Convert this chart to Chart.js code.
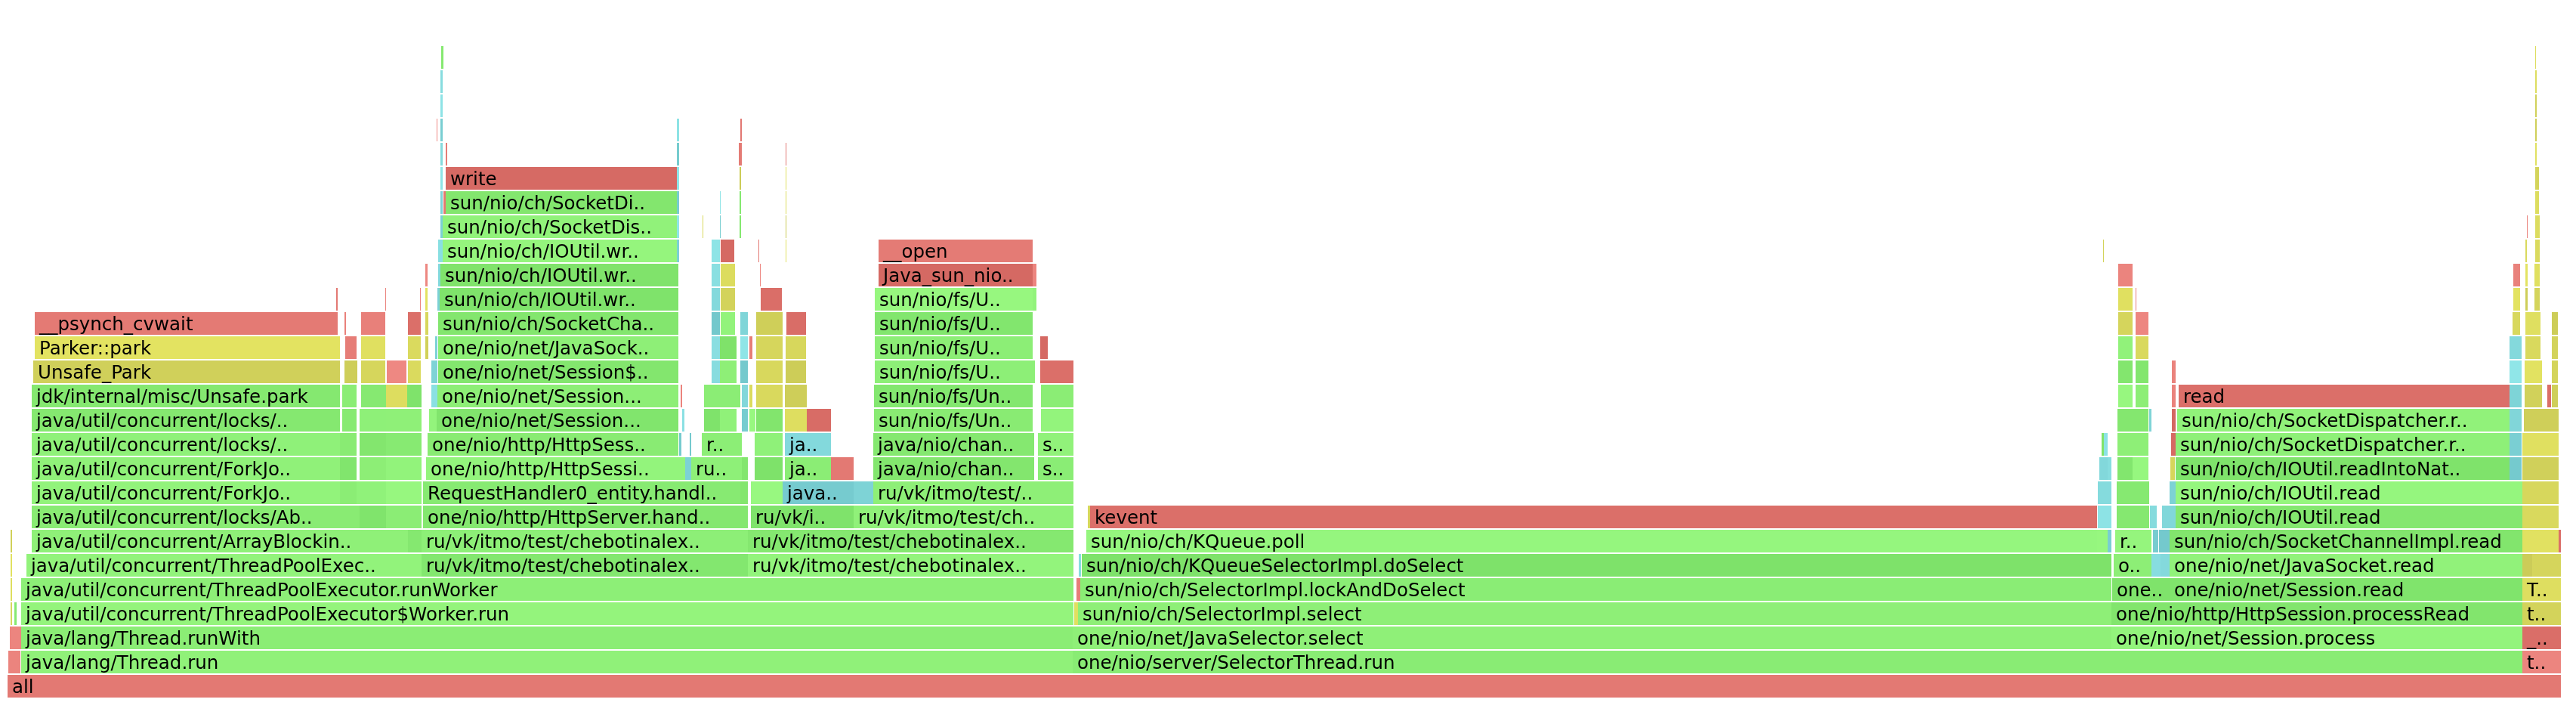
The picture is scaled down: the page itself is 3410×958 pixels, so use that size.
<!DOCTYPE html>
<html>
<head>
<meta charset="utf-8">
<script src="https://cdn.jsdelivr.net/npm/chart.js@4.4.1/dist/chart.umd.min.js"></script>
<style>
html,body{margin:0;padding:0;background:#ffffff;}
#wrap{width:3410px;height:958px;position:relative;}
</style>
</head>
<body>
<div id="wrap"><canvas id="flame"></canvas></div>
<script>
// Depth (stack level) category labels, bottom = 0
const depthLabels = ['0','1','2','3','4','5','6','7','8','9','10','11','12','13','14','15','16','17','18','19','20','21','22','23','24','25','26'];

// Frames per depth: [label, startSample, endSample, kind]
// kind: j=java, n=native (libc), k=kernel/syscall, c=c++, i=inlined
const depth0 = [['all',0,3380,'n']];
const depth1 = [['',1,17,'n'],['java/lang/Thread.run',18,1410,'j'],['one/nio/server/SelectorThread.run',1410,3329,'j'],['t..',3329,3380,'n']];
const depth2 = [['',3,18,'n'],['java/lang/Thread.runWith',18,1410,'j'],['one/nio/net/JavaSelector.select',1410,2785,'j'],['one/nio/net/Session.process',2785,3329,'j'],['_..',3329,3380,'k']];
const depth3 = [['',4,6,'c'],['',9,12,'j'],['java/util/concurrent/ThreadPoolExecutor$Worker.run',18,1411,'j'],['',1412,1417,'c'],['sun/nio/ch/SelectorImpl.select',1417,2785,'j'],['one/nio/http/HttpSession.processRead',2785,3329,'j'],['t..',3329,3380,'c']];
const depth4 = [['',4,6,'c'],['java/util/concurrent/ThreadPoolExecutor.runWorker',18,1411,'j'],['',1415,1420,'n'],['sun/nio/ch/SelectorImpl.lockAndDoSelect',1420,2785,'j'],['one..',2786,2862,'j'],['one/nio/net/Session.read',2862,3329,'j'],['T..',3329,3380,'c']];
const depth5 = [['',4,6,'c'],['java/util/concurrent/ThreadPoolExec..',25,548,'j'],['ru/vk/itmo/test/chebotinalex..',548,980,'j'],['ru/vk/itmo/test/chebotinalex..',980,1411,'j'],['',1418,1421,'i'],['sun/nio/ch/KQueueSelectorImpl.doSelect',1422,2785,'j'],['o..',2788,2838,'j'],['',2838,2850,'i'],['',2850,2862,'i'],['one/nio/net/JavaSocket.read',2862,3329,'j'],['',3329,3342,'c'],['',3342,3380,'c']];
const depth6 = [['',4,6,'c'],['java/util/concurrent/ArrayBlockin..',32,530,'j'],['',530,548,'j'],['ru/vk/itmo/test/chebotinalex..',548,980,'j'],['ru/vk/itmo/test/chebotinalex..',980,1411,'j'],['sun/nio/ch/KQueue.poll',1428,2766,'j'],['',2766,2780,'j'],['',2780,2785,'i'],['r..',2790,2838,'j'],['',2840,2847,'i'],['',2848,2862,'i'],['sun/nio/ch/SocketChannelImpl.read',2862,3329,'j'],['',3329,3377,'c'],['',3377,3380,'k']];
const depth7 = [['java/util/concurrent/locks/Ab..',32,466,'j'],['',466,501,'j'],['',501,548,'j'],['one/nio/http/HttpServer.hand..',550,980,'j'],['ru/vk/i..',984,1120,'j'],['ru/vk/itmo/test/ch..',1120,1411,'j'],['',1430,1433,'c'],['kevent',1433,2766,'k'],['',2767,2785,'i'],['',2792,2835,'j'],['',2836,2845,'i'],['',2852,2870,'i'],['sun/nio/ch/IOUtil.read',2870,3329,'j'],['',3329,3377,'c']];
const depth8 = [['java/util/concurrent/ForkJo..',32,440,'j'],['',440,462,'j'],['',462,501,'j'],['',501,548,'j'],['RequestHandler0_entity.handl..',550,970,'j'],['',970,980,'j'],['',984,1026,'j'],['java..',1026,1120,'i'],['',1120,1146,'i'],['ru/vk/itmo/test/..',1146,1411,'j'],['',2767,2785,'i'],['',2792,2835,'j'],['',2862,2870,'i'],['sun/nio/ch/IOUtil.read',2870,3329,'j'],['',3329,3377,'c']];
const depth9 = [['java/util/concurrent/ForkJo..',32,440,'j'],['',440,462,'j'],['',466,501,'j'],['',501,548,'j'],['one/nio/http/HttpSessi..',554,897,'j'],['',897,905,'i'],['ru..',905,972,'j'],['',972,980,'j'],['',989,1026,'j'],['ja..',1029,1090,'j'],['',1090,1120,'n'],['java/nio/chan..',1146,1359,'j'],['s..',1364,1411,'j'],['',2769,2780,'i'],['',2780,2785,'i'],['',2793,2813,'j'],['',2813,2834,'j'],['',2863,2869,'c'],['sun/nio/ch/IOUtil.readIntoNat..',2870,3312,'j'],['',3312,3328,'i'],['',3329,3377,'c']];
const depth10 = [['java/util/concurrent/locks/..',32,440,'j'],['',440,462,'j'],['',466,501,'j'],['',501,548,'j'],['one/nio/http/HttpSess..',556,888,'j'],['',889,892,'i'],['',903,905,'i'],['r..',919,972,'j'],['',989,1026,'j'],['ja..',1029,1090,'i'],['java/nio/chan..',1146,1359,'j'],['s..',1364,1411,'j'],['',2772,2775,'j'],['',2775,2780,'i'],['',2793,2834,'j'],['',2864,2870,'k'],['sun/nio/ch/SocketDispatcher.r..',2870,3312,'j'],['',3312,3328,'i'],['',3329,3377,'c']];
const depth11 = [['java/util/concurrent/locks/..',32,440,'j'],['',443,462,'j'],['',466,501,'j'],['',501,548,'j'],['',558,568,'j'],['one/nio/net/Session...',568,888,'j'],['',893,896,'i'],['',922,943,'j'],['',943,965,'j'],['',972,980,'i'],['',982,990,'j'],['',991,1026,'j'],['',1029,1058,'c'],['',1058,1090,'k'],['sun/nio/fs/Un..',1147,1357,'j'],['',1368,1411,'j'],['',2793,2834,'j'],['',2835,2838,'i'],['',2865,2870,'k'],['sun/nio/ch/SocketDispatcher.r..',2872,3312,'j'],['',3312,3328,'i'],['',3331,3377,'c']];
const depth12 = [['jdk/internal/misc/Unsafe.park',32,440,'j'],['',443,462,'j'],['',468,501,'j'],['',501,529,'c'],['',529,548,'j'],['',561,569,'i'],['one/nio/net/Session...',569,888,'j'],['',891,893,'n'],['',922,970,'j'],['',972,980,'i'],['',982,986,'c'],['',991,1026,'c'],['',1029,1058,'c'],['sun/nio/fs/Un..',1147,1357,'j'],['',1368,1411,'j'],['',2794,2813,'j'],['',2817,2834,'j'],['',2865,2870,'n'],['read',2874,3312,'k'],['',3312,3328,'i'],['',3332,3355,'c'],['',3362,3367,'k'],['',3368,3376,'c']];
const depth13 = [['Unsafe_Park',34,440,'c'],['',446,463,'c'],['',468,500,'c'],['',502,528,'n'],['',530,547,'c'],['',561,569,'i'],['one/nio/net/Session$..',570,888,'j'],['',932,943,'i'],['',943,965,'j'],['',970,980,'i'],['',991,1026,'c'],['',1030,1057,'c'],['sun/nio/fs/U..',1148,1360,'j'],['',1367,1411,'k'],['',2794,2813,'j'],['',2817,2834,'j'],['',2865,2870,'n'],['',3312,3328,'i'],['',3332,3355,'c'],['',3368,3376,'c']];
const depth14 = [['Parker::park',36,440,'c'],['',447,462,'n'],['',468,500,'c'],['',530,547,'c'],['',553,557,'c'],['',566,569,'i'],['one/nio/net/JavaSock..',570,888,'j'],['',932,943,'i'],['',943,965,'j'],['',970,980,'i'],['',982,986,'n'],['',991,1026,'c'],['',1030,1057,'c'],['sun/nio/fs/U..',1148,1357,'j'],['',1367,1377,'k'],['',2794,2813,'j'],['',2817,2834,'c'],['',3312,3328,'i'],['',3333,3353,'c'],['',3368,3376,'c']];
const depth15 = [['__psynch_cvwait',36,437,'n'],['',446,448,'n'],['',468,500,'n'],['',530,547,'k'],['',553,557,'c'],['sun/nio/ch/SocketCha..',570,888,'j'],['',932,943,'i'],['',944,963,'j'],['',970,980,'i'],['',991,1026,'c'],['',1031,1057,'k'],['sun/nio/fs/U..',1148,1357,'j'],['',2794,2813,'c'],['',2817,2834,'n'],['',3316,3326,'c'],['',3333,3353,'c'],['',3368,3376,'c']];
const depth16 = [['',435,437,'n'],['',500,501,'n'],['',546,547,'n'],['',553,556,'c'],['',569,572,'i'],['sun/nio/ch/IOUtil.wr..',572,888,'j'],['',932,943,'i'],['',944,963,'c'],['',997,1025,'k'],['sun/nio/fs/U..',1148,1357,'j'],['',1357,1362,'j'],['',2794,2813,'c'],['',2817,2818,'n'],['',3317,3326,'c'],['',3333,3336,'c'],['',3345,3352,'c']];
const depth17 = [['',553,556,'n'],['',570,573,'i'],['sun/nio/ch/IOUtil.wr..',573,888,'j'],['',932,943,'i'],['',944,963,'c'],['',996,997,'n'],['Java_sun_nio..',1153,1357,'k'],['',1357,1362,'n'],['',2794,2813,'n'],['',3317,3326,'n'],['',3333,3336,'c'],['',3345,3352,'c']];
const depth18 = [['',570,576,'i'],['sun/nio/ch/IOUtil.wr..',576,886,'j'],['',886,889,'i'],['',932,943,'i'],['',944,962,'k'],['',994,995,'n'],['',1030,1031,'c'],['__open',1153,1357,'n'],['',2774,2775,'c'],['',3333,3335,'c'],['',3346,3352,'c']];
const depth19 = [['',573,576,'i'],['sun/nio/ch/SocketDis..',576,886,'j'],['',886,889,'i'],['',920,921,'c'],['',943,944,'i'],['',969,971,'j'],['',1030,1031,'c'],['',3335,3336,'n'],['',3346,3352,'c']];
const depth20 = [['',573,576,'i'],['',577,580,'n'],['sun/nio/ch/SocketDi..',580,886,'j'],['',886,889,'i'],['',943,944,'i'],['',969,971,'j'],['',1030,1031,'c'],['',3346,3351,'c']];
const depth21 = [['',573,576,'i'],['write',580,886,'k'],['',886,889,'i'],['',969,971,'c'],['',1030,1031,'c'],['',3346,3351,'c']];
const depth22 = [['',573,576,'i'],['',580,582,'n'],['',886,889,'i'],['',968,972,'n'],['',1030,1031,'n'],['',3346,3348,'c']];
const depth23 = [['',568,569,'n'],['',573,576,'i'],['',886,889,'i'],['',970,972,'n'],['',3346,3348,'c']];
const depth24 = [['',573,576,'i'],['',3346,3348,'c']];
const depth25 = [['',573,576,'i'],['',3346,3348,'c']];
const depth26 = [['',574,577,'j'],['',3346,3347,'c']];

const depths = [depth0,depth1,depth2,depth3,depth4,depth5,depth6,depth7,depth8,depth9,depth10,depth11,depth12,depth13,depth14,depth15,depth16,depth17,depth18,depth19,depth20,depth21,depth22,depth23,depth24,depth25,depth26];
const totalSamples = 3380;

// ---- build frame list ----
const frames = [];
depths.forEach((row, d) => row.forEach(f => frames.push({label:f[0], start:f[1], end:f[2], kind:f[3], depth:d})));

function hashUnit(s){let h=2166136261;for(let i=0;i<s.length;i++){h^=s.charCodeAt(i);h=Math.imul(h,16777619);}h^=h>>>13;h=Math.imul(h,0x5bd1e995);h^=h>>>15;return (h>>>0)/4294967295;}
const palette = {
  j:[[126,226,106],[152,248,128]],
  n:[[226,120,114],[238,136,130]],
  k:[[212,104,98],[220,112,106]],
  c:[[204,204,88],[228,228,98]],
  i:[[115,200,204],[144,230,232]]
};
function frameColor(f){
  const v = hashUnit(f.label+'|'+f.depth+'|'+f.start);
  const p = palette[f.kind];
  const c = p[0].map((a,k)=>Math.round(a+(p[1][k]-a)*v));
  return 'rgb('+c.join(',')+')';
}

const labelPlugin = {
  id:'frameLabels',
  afterDatasetsDraw(chart){
    const ctx = chart.ctx;
    const meta = chart.getDatasetMeta(0);
    ctx.save();
    ctx.font = '24.5px Verdana, "DejaVu Sans", sans-serif';
    ctx.fillStyle = '#000000';
    ctx.textBaseline = 'alphabetic';
    meta.data.forEach((bar,i)=>{
      const f = frames[i];
      if(!f.label) return;
      const left = Math.min(bar.x, bar.base), right = Math.max(bar.x, bar.base);
      const avail = right - left - 8;
      if(avail < 20) return;
      let text = f.label;
      if(ctx.measureText(text).width > avail){
        let b = text.replace(/\.+$/,'');
        while(b.length>1 && ctx.measureText(b+'..').width > avail) b = b.slice(0,-1);
        text = b+'..';
        if(ctx.measureText(text).width > avail) return;
      }
      ctx.fillText(text, left + 6, bar.y + 8.5);
    });
    ctx.restore();
  }
};

new Chart(document.getElementById('flame'), {
  type:'bar',
  data:{
    labels: depthLabels,
    datasets:[{
      data: frames.map(f=>({x:[f.start,f.end], y:String(f.depth)})),
      backgroundColor: frames.map(frameColor),
      borderWidth:0,
      barThickness:30,
      inflateAmount:0
    }]
  },
  options:{
    indexAxis:'y',
    responsive:true,
    maintainAspectRatio:false,
    devicePixelRatio:1,
    animation:false,
    events:[],
    layout:{padding:{left:10,right:20,top:60,bottom:34}},
    scales:{
      x:{type:'linear',min:0,max:totalSamples,display:false},
      y:{type:'category',labels:depthLabels,reverse:true,display:false,offset:true}
    },
    plugins:{legend:{display:false},tooltip:{enabled:false}}
  },
  plugins:[labelPlugin]
});
</script>
</body>
</html>
